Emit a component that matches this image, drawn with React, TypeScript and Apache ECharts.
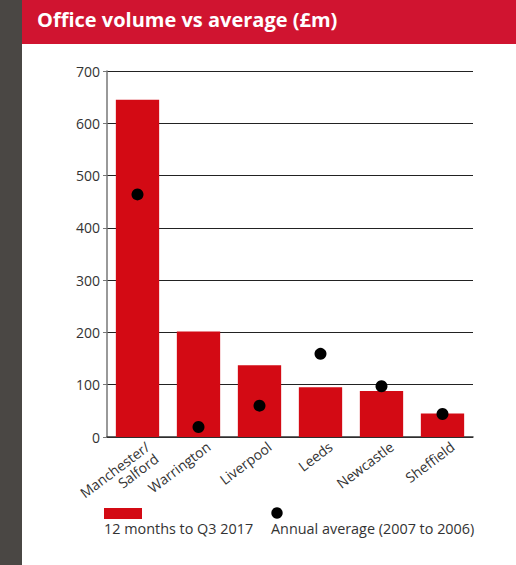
import React, { useEffect, useRef } from "react";
import * as echarts from "echarts";

const cities = ["Manchester/\nSalford", "Warrington", "Liverpool", "Leeds", "Newcastle", "Sheffield"];
const volume12m = [645, 202, 137, 95, 88, 45];
const annualAverage = [464, 19, 60, 159, 97, 44];
const yTicks = { min: 0, max: 700, interval: 100 };
const seriesNames = ["12 months to Q3 2017", "Annual average (2007 to 2006)"];
const titleText = "Office volume vs average (£m)";

const RED = "#d30a14";
const HEADER = "#d01430";
const FONT = "'Open Sans', 'Noto Sans', sans-serif";

export default function App() {
  const ref = useRef<HTMLDivElement>(null);

  useEffect(() => {
    if (!ref.current) return;
    const chart = echarts.init(ref.current, null, { renderer: "svg" });
    chart.setOption({
      animation: false,
      backgroundColor: "#ffffff",
      textStyle: { fontFamily: FONT },
      grid: { left: 107, top: 71, right: 43, bottom: 128 },
      xAxis: {
        type: "category",
        data: cities,
        axisLine: { show: true, lineStyle: { color: "#333", width: 1.5 } },
        axisTick: { show: false },
        axisLabel: {
          rotate: 37,
          interval: 0,
          color: "#333",
          fontSize: 14,
          lineHeight: 15,
          align: "right",
          verticalAlign: "top",
          margin: 6,
          padding: [0, -7, 0, 0],
          fontFamily: FONT,
        },
      },
      yAxis: {
        type: "value",
        min: yTicks.min,
        max: yTicks.max,
        interval: yTicks.interval,
        axisLine: { show: true, lineStyle: { color: "#777", width: 1.5 } },
        axisTick: { show: true, length: 4, lineStyle: { color: "#777" } },
        axisLabel: { color: "#333", fontSize: 14, margin: 7, fontFamily: FONT },
        splitLine: { show: true, lineStyle: { color: "#222", width: 1 } },
      },
      series: [
        {
          name: seriesNames[0],
          type: "bar",
          data: volume12m,
          barWidth: "71%",
          itemStyle: { color: RED },
          z: 2,
        },
        {
          name: seriesNames[1],
          type: "scatter",
          data: annualAverage,
          symbol: "circle",
          symbolSize: 12,
          itemStyle: { color: "#000", opacity: 1 },
          z: 3,
        },
      ],
      graphic: [
        { type: "rect", left: 0, top: 0, shape: { width: 22, height: 565 }, style: { fill: "#4a4744" } },
        { type: "rect", left: 22, top: 0, shape: { width: 494, height: 44 }, style: { fill: HEADER } },
        {
          type: "text",
          left: 37,
          top: 9,
          style: { text: titleText, fill: "#fff", font: `bold 20px ${FONT}` },
        },
        { type: "rect", left: 104, top: 508, shape: { width: 38, height: 11 }, style: { fill: RED } },
        {
          type: "text",
          left: 104,
          top: 521,
          style: { text: seriesNames[0], fill: "#333", font: `14.4px ${FONT}` },
        },
        { type: "circle", shape: { cx: 277, cy: 513, r: 5.7 }, style: { fill: "#000" } },
        {
          type: "text",
          left: 271,
          top: 521,
          style: { text: seriesNames[1], fill: "#333", font: `14.4px ${FONT}` },
        },
      ],
    });
    return () => chart.dispose();
  }, []);

  return (
    <div
      ref={ref}
      style={{ position: "fixed", left: 0, top: 0, width: 516, height: 565 }}
    />
  );
}
